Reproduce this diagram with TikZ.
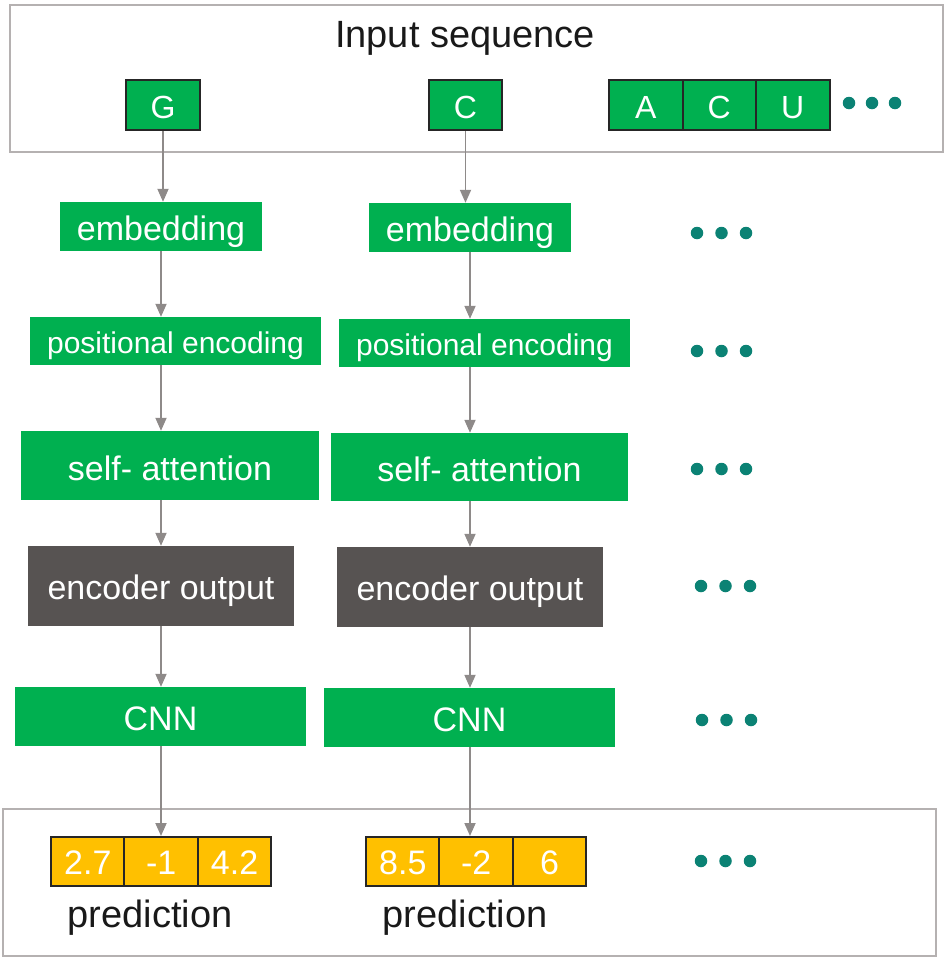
\documentclass[tikz,border=0pt]{standalone}
\usepackage{fontspec}
\setmainfont{Liberation Sans}
\usetikzlibrary{arrows.meta}
\definecolor{pgreen}{HTML}{00B050}
\definecolor{pgray}{HTML}{575352}
\definecolor{pyellow}{HTML}{FFC000}
\definecolor{pteal}{HTML}{0B8274}
\definecolor{pframe}{HTML}{B5B1B1}
\definecolor{parrow}{HTML}{8E8A89}
\newcommand{\fs}[1]{\fontsize{#1}{#1}\selectfont}
\tikzset{
  frame/.style={draw=pframe, line width=2pt},
  greenbox/.style={fill=pgreen, text=white, inner sep=0pt, text height=27pt, text depth=0pt, font=\fs{34}},
  graybox/.style={fill=pgray, text=white, inner sep=0pt, text height=26pt, text depth=0pt, font=\fs{34}},
  letterbox/.style={fill=pgreen, draw=black!85, line width=2pt, text=white, inner sep=0pt, minimum width=73.5pt, minimum height=50pt, text height=26pt, text depth=0pt, font=\fs{32}},
  numbox/.style={fill=pyellow, draw=black!85, line width=2pt, text=white, inner sep=0pt, minimum width=73.7pt, minimum height=49pt, text height=26pt, text depth=0pt, font=\fs{34}},
  arr/.style={draw=parrow, line width=1.8pt, -{Triangle[length=13pt,width=11pt]}},
  dotmark/.style={circle, fill=pteal, inner sep=0pt, minimum size=12.5pt},
  plain/.style={inner sep=0pt, text=black!90, font=\fs{38}}
}
\begin{document}
\begin{tikzpicture}[x=1pt,y=-1pt]
\useasboundingbox (0,0) rectangle (948,972);
% frames
\draw[frame] (10,5) rectangle (943,152);
\draw[frame] (3,809) rectangle (936,956);
% title
\node[plain, anchor=base] (title) at (465,47) {Input sequence};
% input letters
\node[letterbox, minimum width=74pt] (G) at (163,105) {G};
\node[letterbox, minimum width=73pt] (C) at (465.5,105) {C};
\node[letterbox] (A2) at (645.75,105) {A};
\node[letterbox] (C2) at (719.25,105) {C};
\node[letterbox] (U2) at (792.75,105) {U};
\node[dotmark] (t1) at (849,103) {};
\node[dotmark] (t2) at (872,103) {};
\node[dotmark] (t3) at (895,103) {};
% arrow axes
\coordinate (ax1) at (161,0);
\coordinate (ax2) at (470,0);
% column 1
\node[greenbox, minimum width=202pt, minimum height=49pt] (emb1) at (161,226.5) {embedding};
\node[greenbox, minimum width=291pt, minimum height=48pt, font=\fs{30}, text height=24pt] (pos1) at (175.5,341) {positional encoding};
\node[greenbox, minimum width=298pt, minimum height=69pt, text height=29pt] (sa1) at (170,465.5) {self- attention};
\node[graybox, minimum width=266pt, minimum height=80pt] (enc1) at (161,586) {encoder output};
\node[greenbox, minimum width=291pt, minimum height=59pt] (cnn1) at (160.5,716.5) {CNN};
% column 2
\node[greenbox, minimum width=202pt, minimum height=49pt] (emb2) at (470,227.5) {embedding};
\node[greenbox, minimum width=291pt, minimum height=48pt, font=\fs{30}, text height=24pt] (pos2) at (484.5,343) {positional encoding};
\node[greenbox, minimum width=297pt, minimum height=68pt, text height=29pt] (sa2) at (479.5,467) {self- attention};
\node[graybox, minimum width=266pt, minimum height=80pt] (enc2) at (470,587) {encoder output};
\node[greenbox, minimum width=291pt, minimum height=59pt] (cnn2) at (469.5,717.5) {CNN};
% predictions
\node[numbox] (p11) at (87.8,861.5) {2.7};
\node[numbox] (p12) at (161.2,861.5) {-1};
\node[numbox] (p13) at (234.6,861.5) {4.2};
\node[numbox] (p21) at (402.8,861.5) {8.5};
\node[numbox] (p22) at (476.2,861.5) {-2};
\node[numbox] (p23) at (549.6,861.5) {6};
\node[plain, anchor=base] (pl1) at (150,927) {prediction};
\node[plain, anchor=base] (pl2) at (465,927) {prediction};
% arrows column 1
\draw[arr] (G.south) -- (G.south |- emb1.north);
\draw[arr] (emb1.south -| ax1) -- (pos1.north -| ax1);
\draw[arr] (pos1.south -| ax1) -- (sa1.north -| ax1);
\draw[arr] (sa1.south -| ax1) -- (enc1.north -| ax1);
\draw[arr] (enc1.south -| ax1) -- (cnn1.north -| ax1);
\draw[arr] (cnn1.south -| ax1) -- (p12.north -| ax1);
% arrows column 2
\draw[arr] (C.south) -- (C.south |- emb2.north);
\draw[arr] (emb2.south -| ax2) -- (pos2.north -| ax2);
\draw[arr] (pos2.south -| ax2) -- (sa2.north -| ax2);
\draw[arr] (sa2.south -| ax2) -- (enc2.north -| ax2);
\draw[arr] (enc2.south -| ax2) -- (cnn2.north -| ax2);
\draw[arr] (cnn2.south -| ax2) -- (p22.north -| ax2);
% ellipsis dots
\foreach \y/\xa in {233/697, 351/697, 469/697, 586/701, 720/702, 861/701}{
  \node[dotmark] at (\xa,\y) {};
  \node[dotmark] at (\xa+24.5,\y) {};
  \node[dotmark] at (\xa+49,\y) {};
}
\end{tikzpicture}
\end{document}
